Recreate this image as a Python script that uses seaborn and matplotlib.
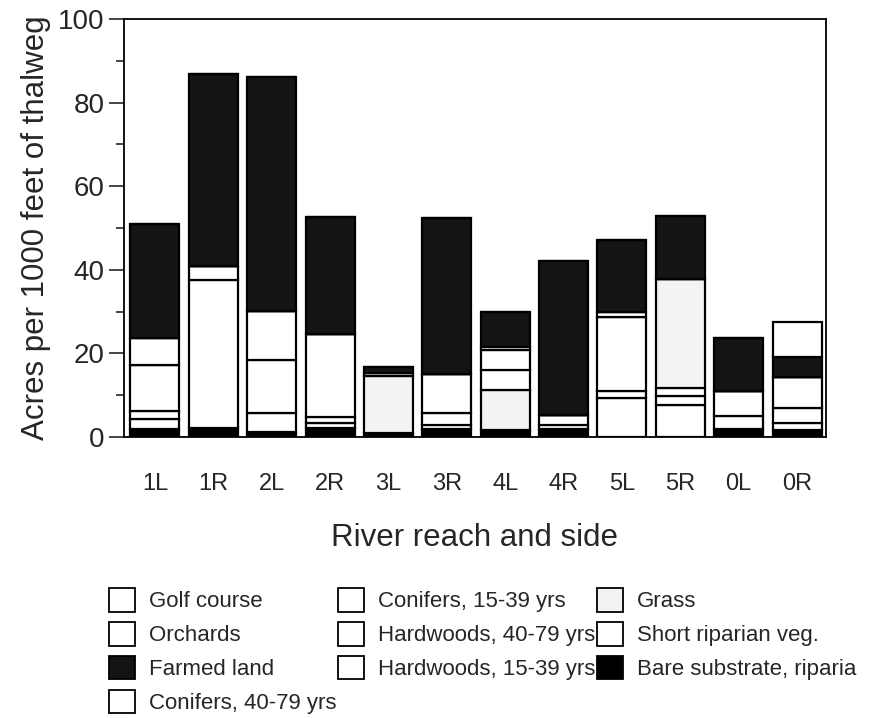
import matplotlib
matplotlib.use("Agg")
import matplotlib.pyplot as plt
from matplotlib.patches import Patch
import seaborn as sns
import pandas as pd
import numpy as np

reaches = ["1L", "1R", "2L", "2R", "3L", "3R", "4L", "4R", "5L", "5R", "0L", "0R"]

# Stacking order bottom -> top
bare      = [1.8, 2.2, 1.3, 2.1, 1.0, 1.9, 1.7, 1.8, 0.0, 0.0, 1.8, 1.7]
short_rip = [2.4, 35.4, 4.4, 1.3, 0.0, 1.0, 0.0, 1.1, 9.3, 7.7, 3.1, 1.6]
hw15      = [2.0, 3.4, 12.8, 1.3, 0.0, 2.8, 0.0, 2.4, 1.7, 2.1, 6.2, 3.7]
hw40      = [11.1, 0.0, 11.7, 19.9, 0.0, 9.3, 0.0, 0.0, 17.7, 1.9, 0.0, 7.3]
grass     = [0.0, 0.0, 0.0, 0.0, 13.6, 0.0, 9.6, 0.0, 0.0, 26.1, 0.0, 0.0]
con15     = [6.5, 0.0, 0.0, 0.0, 0.8, 0.0, 4.8, 0.0, 1.1, 0.0, 0.0, 0.0]
con40     = [0.0, 0.0, 0.0, 0.0, 0.0, 0.0, 4.8, 0.0, 0.0, 0.0, 0.0, 0.0]
golf      = [0.0, 0.0, 0.0, 0.0, 0.0, 0.0, 0.7, 0.0, 0.0, 0.0, 0.0, 0.0]
farmed    = [27.2, 45.8, 55.9, 28.1, 1.3, 37.3, 8.4, 36.9, 17.4, 15.0, 12.6, 4.8]
orchards  = [0.0, 0.0, 0.0, 0.0, 0.0, 0.0, 0.0, 0.0, 0.0, 0.0, 0.0, 8.3]

layers = [
    ("Bare substrate, riparia", bare, "#000000"),
    ("Short riparian veg.", short_rip, "#ffffff"),
    ("Hardwoods, 15-39 yrs", hw15, "#ffffff"),
    ("Hardwoods, 40-79 yrs", hw40, "#ffffff"),
    ("Grass", grass, "#f3f3f3"),
    ("Conifers, 15-39 yrs", con15, "#ffffff"),
    ("Conifers, 40-79 yrs", con40, "#ffffff"),
    ("Golf course", golf, "#ffffff"),
    ("Farmed land", farmed, "#141414"),
    ("Orchards", orchards, "#ffffff"),
]
legend_order = ["Golf course", "Orchards", "Farmed land", "Conifers, 40-79 yrs",
                "Conifers, 15-39 yrs", "Hardwoods, 40-79 yrs", "Hardwoods, 15-39 yrs",
                "Grass", "Short riparian veg.", "Bare substrate, riparia"]

sns.set_style("white")
plt.rcParams["font.family"] = ["Liberation Sans", "DejaVu Sans"]

fig = plt.figure(figsize=(8.71, 7.18), dpi=100)
ax = fig.add_axes([0.1424, 0.3914, 0.8056, 0.5821])

bottom = np.zeros(len(reaches))
colors = {}
for name, vals, col in layers:
    colors[name] = col
    df = pd.DataFrame({"reach": reaches, "value": vals})
    sns.barplot(data=df, x="reach", y="value", order=reaches, color=col,
                saturation=1, width=0.84, bottom=bottom, edgecolor="black",
                linewidth=1.6, ax=ax, errorbar=None)
    bottom = bottom + np.array(vals)

ax.set_xlim(-0.53, 11.49)
ax.set_ylim(0, 100)
ax.set_yticks([0, 20, 40, 60, 80, 100])
ax.set_yticks([10, 30, 50, 70, 90], minor=True)
ax.tick_params(axis="y", which="major", direction="out", length=11, width=1.2,
               labelsize=20, pad=3, left=True)
ax.tick_params(axis="y", which="minor", direction="out", length=6, width=1.2, left=True)
ax.tick_params(axis="x", length=0, pad=26, labelsize=17)
for lab in ax.get_xticklabels():
    lab.set_family(["Liberation Sans Narrow", "Liberation Sans", "DejaVu Sans"])
for s in ax.spines.values():
    s.set_color("black")
    s.set_linewidth(1.3)
ax.set_xlabel("River reach and side", fontsize=22.5, labelpad=20)
ax.set_ylabel("Acres per 1000 feet of thalweg", fontsize=22.5, labelpad=5)

handles = [Patch(facecolor=colors[n], edgecolor="black", linewidth=1.3, label=n)
           for n in legend_order]
fig.legend(handles=handles, ncol=3, loc="upper left", bbox_to_anchor=(0.125, 0.181),
           frameon=False, fontsize=16, handlelength=1.17, handleheight=1.26,
           handletextpad=0.65, columnspacing=0.05, labelspacing=0.43,
           borderaxespad=0, borderpad=0)

fig.savefig("out.png", dpi=100, facecolor="white")
